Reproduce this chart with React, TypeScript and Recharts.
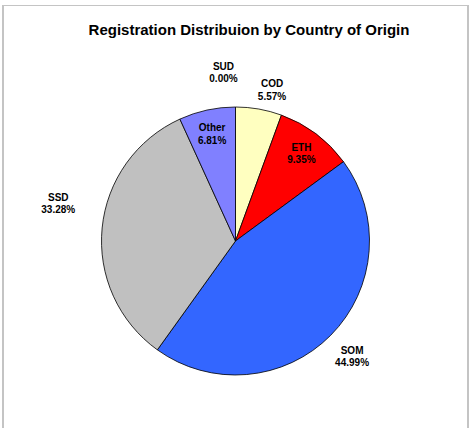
import { PieChart, Pie, Cell } from 'recharts';

const countries = ['COD', 'ETH', 'SOM', 'SSD', 'Other', 'SUD'];
const shares = [5.57, 9.35, 44.99, 33.28, 6.81, 0.0];
const sliceColors = ['#FFFFC0', '#FF0000', '#3366FF', '#C0C0C0', '#8080FF', '#FFFFFF'];

const data = countries.map((name, i) => ({ name, value: shares[i] }));

const RADIAN = Math.PI / 180;
// labels that sit inside their slice, like the Excel best-fit placement
const insideLabels = ['ETH', 'Other'];
// small nudges so outside labels don't collide (Excel moves them a bit)
const labelNudge: Record<string, [number, number]> = {
    SUD: [-12, -5],
    COD: [8, 10],
    SSD: [-14, -22],
};

const renderLabel = (props: any) => {
    const { cx, cy, midAngle, outerRadius, name, value } = props;
    const inside = insideLabels.includes(name);
    const r = inside ? outerRadius * 0.82 : outerRadius + 30;
    const nudge = labelNudge[name] || [0, 0];
    const x = cx + r * Math.cos(-midAngle * RADIAN) + nudge[0];
    const y = cy + r * Math.sin(-midAngle * RADIAN) + nudge[1];
    return (
        <text
            x={x}
            y={y - 2.5}
            textAnchor="middle"
            fontFamily="'Liberation Sans', Arial, sans-serif"
            fontSize={10}
            fontWeight="bold"
            fill="#000"
        >
            <tspan x={x}>{name}</tspan>
            <tspan x={x} dy={12.5}>{Number(value).toFixed(2)}%</tspan>
        </text>
    );
};

export default function App() {
    return (
        <div style={{ position: 'absolute', left: 0, top: 0, width: 474, height: 428, background: '#fff', overflow: 'hidden' }}>
            <div
                style={{
                    position: 'absolute',
                    left: 2,
                    top: 5,
                    width: 463,
                    height: 440,
                    borderLeft: '2px solid #c4c4c4',
                    borderTop: '1px solid #c4c4c4',
                    borderRight: '2px solid #c4c4c4',
                }}
            />
            <div
                style={{
                    position: 'absolute',
                    left: 16,
                    top: 21,
                    width: 466,
                    textAlign: 'center',
                    fontFamily: "'Liberation Sans', Arial, sans-serif",
                    fontWeight: 'bold',
                    fontSize: 15,
                    lineHeight: '17px',
                    color: '#000',
                }}
            >
                Registration Distribuion by Country of Origin
            </div>
            <div style={{ position: 'absolute', left: 0, top: 0 }}>
                <PieChart width={474} height={428} margin={{ top: 0, right: 0, bottom: 0, left: 0 }}>
                    <Pie
                        data={data}
                        dataKey="value"
                        nameKey="name"
                        cx={235.5}
                        cy={241}
                        outerRadius={134}
                        startAngle={90}
                        endAngle={-270}
                        stroke="#000"
                        strokeWidth={0.8}
                        label={renderLabel}
                        labelLine={false}
                        isAnimationActive={false}
                    >
                        {data.map((d, i) => (
                            <Cell key={d.name} fill={sliceColors[i]} />
                        ))}
                    </Pie>
                </PieChart>
            </div>
        </div>
    );
}
